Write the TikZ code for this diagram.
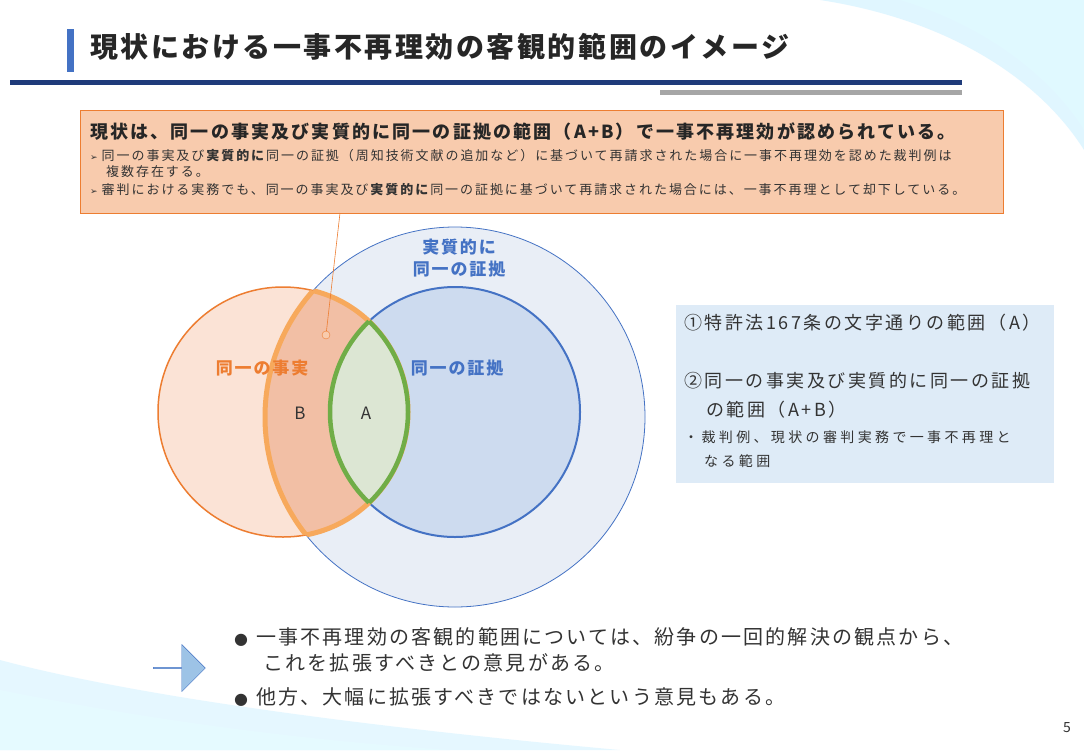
\documentclass[tikz,border=0pt]{standalone}
\usepackage{fontspec}
\setmainfont{Noto Sans CJK JP}
\newfontfamily\symfont{DejaVu Sans}
\usetikzlibrary{shapes.arrows}
\definecolor{navy}{HTML}{1F3B7A}
\definecolor{obox}{HTML}{F8CBAD}
\definecolor{oline}{HTML}{ED7D31}
\definecolor{bline}{HTML}{4472C4}
\definecolor{bigfill}{HTML}{E9EEF6}
\definecolor{ofill}{HTML}{FBE3D6}
\definecolor{bfill}{HTML}{CDDBEF}
\definecolor{bfillov}{HTML}{F2BFA5}
\definecolor{gline}{HTML}{70AD47}
\definecolor{afill}{HTML}{DCE6D3}
\definecolor{thickor}{HTML}{F7A95C}
\definecolor{rbox}{HTML}{DEEBF7}
\definecolor{btxt}{HTML}{4472C4}
\definecolor{arrfill}{HTML}{9DC3E6}
\newcommand{\mk}{{\symfont\fontsize{9}{9}\selectfont ➢}\hspace{4pt}}
\tikzset{
 fsl/.style 2 args={font=\fontsize{#1}{#1}\selectfont\addfontfeature{LetterSpace=#2}},
 lbl/.style={inner sep=0pt, anchor=west, text=black!80},
}
\begin{document}
\begin{tikzpicture}[x=1pt,y=-1pt]
\useasboundingbox (0,0) rectangle (1084,750);
\fill[white] (0,0) rectangle (1084,750);
% decorations
\fill[blue!30!cyan!20, opacity=0.6] (820,0) .. controls (950,20) and (1040,80) .. (1084,150) -- (1084,0) -- cycle;
\fill[blue!20!cyan!12] (900,0) .. controls (1000,30) and (1060,90) .. (1084,130) -- (1084,0) -- cycle;
\fill[blue!30!cyan!20, opacity=0.5] (0,660) .. controls (150,700) and (400,730) .. (620,750) -- (0,750) -- cycle;
\fill[blue!20!cyan!10] (0,690) .. controls (150,720) and (300,740) .. (450,750) -- (0,750) -- cycle;
% title
\fill[bline] (67,29) rectangle (74,72);
\node[lbl, text=black!85, fsl={28}{9}] (title) at (90,47) {\textbf{現状における一事不再理効の客観的範囲のイメージ}};
\fill[navy] (10,80) rectangle (962,85);
\fill[gray!70] (660,90) rectangle (962,95);
% top box
\node[draw=oline, fill=obox, minimum width=923, minimum height=103, anchor=north west, inner sep=0pt] (tbox) at (80,110) {};
\node[lbl, fsl={18}{12}, text=black!85] (t1) at (90,132) {\textbf{現状は、同一の事実及び実質的に同一の証拠の範囲（A+B）で一事不再理効が認められている。}};
\node[lbl, fsl={13}{15}] (t2) at (90,156) {\mk 同一の事実及び\textbf{実質的に}同一の証拠（周知技術文献の追加など）に基づいて再請求された場合に一事不再理効を認めた裁判例は};
\node[lbl, fsl={13}{15}] (t3) at (106,172) {複数存在する。};
\node[lbl, fsl={13}{15}] (t4) at (90,190) {\mk 審判における実務でも、同一の事実及び\textbf{実質的に}同一の証拠に基づいて再請求された場合には、一事不再理として却下している。};
% circles
\def\CBig{(455,417) circle (190)}
\def\COr{(283,412) circle (125)}
\def\CBl{(455,412) circle (125)}
\fill[bigfill] \CBig;
\draw[bline, line width=0.8] \CBig;
\fill[ofill] \COr;
\draw[oline, line width=1.5] \COr;
\begin{scope}
 \clip \COr; \fill[bfillov] \CBig;
\end{scope}
\fill[bfill] \CBl;
\draw[bline, line width=2] \CBl;
\begin{scope}
 \clip \COr; \draw[thickor, line width=5] \CBig;
\end{scope}
\begin{scope}
 \clip \CBig; \draw[thickor, line width=5] \COr;
\end{scope}
\begin{scope}
 \clip \COr; \fill[afill] \CBl;
\end{scope}
\begin{scope}
 \clip \COr; \draw[gline, line width=4.5] \CBl;
\end{scope}
\begin{scope}
 \clip \CBl; \draw[gline, line width=4.5] \COr;
\end{scope}
% callout
\node[circle, draw=oline, fill=obox, minimum size=8, inner sep=0pt] (dot) at (326,335) {};
\coordinate (cb) at (340,213);
\draw[oline, line width=0.6] (dot) -- (cb);
% labels
\node[fsl={17}{11}, text=btxt, align=center] (l1) at (460,258) {\textbf{実質的に}\\[5pt]\textbf{同一の証拠}};
\node[fsl={17}{11}, text=oline] (l2) at (263,368) {\textbf{同一の事実}};
\node[fsl={17}{11}, text=btxt] (l3) at (458,368) {\textbf{同一の証拠}};
\node[fsl={17}{0}, text=black!80] (lb) at (300,413) {B};
\node[fsl={17}{0}, text=black!80] (la) at (366,413) {A};
% right box
\node[fill=rbox, minimum width=378, minimum height=178, anchor=north west, inner sep=0pt] (rb) at (676,305) {};
\node[lbl, fsl={18}{14}] (r1) at (684,323) {①特許法167条の文字通りの範囲（A）};
\node[lbl, fsl={18}{14}] (r2) at (684,381) {②同一の事実及び実質的に同一の証拠};
\node[lbl, fsl={18}{14}] (r3) at (706,410) {の範囲（A+B）};
\node[lbl, fsl={14}{24}] (r4) at (684,437) {・裁判例、現状の審判実務で一事不再理と};
\node[lbl, fsl={14}{24}] (r5) at (704,461) {なる範囲};
% arrow
\node[single arrow, draw=bline, fill=arrfill, minimum width=47, single arrow head extend=8pt, minimum height=52, inner sep=0pt, anchor=center] (arr) at (179,668) {};
% bullets
\node[lbl, fsl={20}{11}] (b1) at (234,637) {{\symfont\fontsize{16}{16}\selectfont ●}\hspace{8pt}一事不再理効の客観的範囲については、紛争の一回的解決の観点から、};
\node[lbl, fsl={20}{11}] (b2) at (263,663) {これを拡張すべきとの意見がある。};
\node[lbl, fsl={20}{11}] (b3) at (234,697) {{\symfont\fontsize{16}{16}\selectfont ●}\hspace{8pt}他方、大幅に拡張すべきではないという意見もある。};
\node[fsl={14}{0}, text=black!80] (pg) at (1067,728) {5};
\end{tikzpicture}
\end{document}
